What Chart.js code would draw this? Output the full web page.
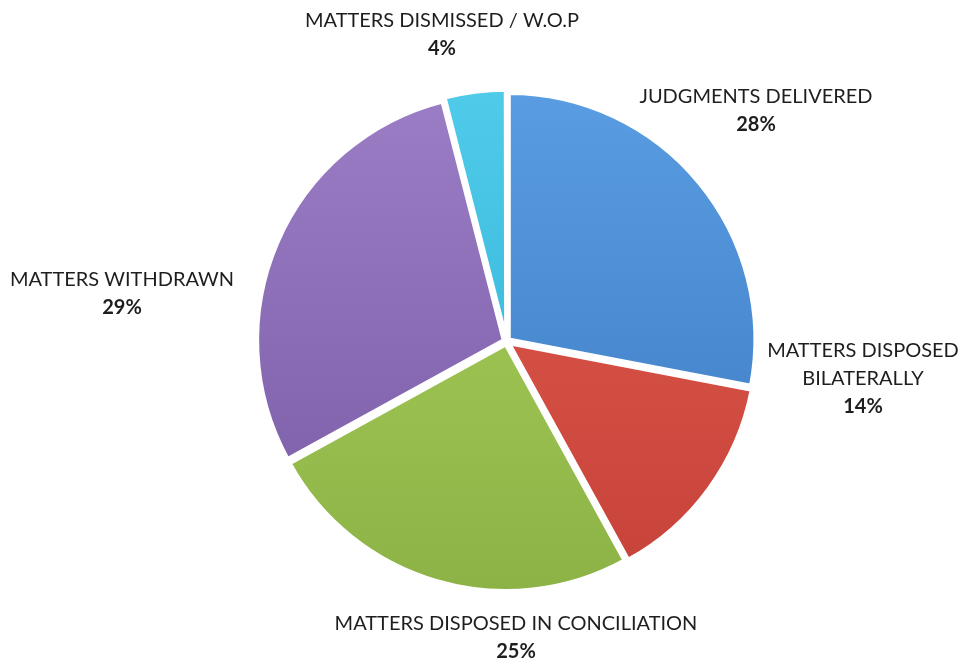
<!DOCTYPE html>
<html>
<head>
<meta charset="utf-8">
<script src="https://cdn.jsdelivr.net/npm/chart.js@4.4.1/dist/chart.umd.min.js"></script>
<style>
  html, body { margin: 0; padding: 0; background: #fff; }
  #wrap { width: 963px; height: 666px; }
</style>
</head>
<body>
<div id="wrap"><canvas id="grafico" width="963" height="666"></canvas></div>
<script>
const categorias = [
    ["JUDGMENTS DELIVERED"],
    ["MATTERS DISPOSED", "BILATERALLY"],
    ["MATTERS DISPOSED IN CONCILIATION"],
    ["MATTERS WITHDRAWN"],
    ["MATTERS DISMISSED / W.O.P"]
];
const percentuais = [28, 14, 25, 29, 4];

// cores claras (topo) e escuras (base) de cada fatia
const corClara = ["#5a9de2", "#e25c4c", "#abd35c", "#9b7ec6", "#50cbea"];
const corEscura = ["#3b78c0", "#c6423a", "#8cb246", "#785aa4", "#2eadd4"];

// onde fica o centro de cada rótulo (x, linha de base da 1ª linha)
const posRotulos = [[756, 103], [863, 357], [516, 630], [122, 286], [442, 27]];

const fonte = "Lato, 'Open Sans', sans-serif";

const rotulos = {
    id: "rotulos",
    afterDraw(chart) {
        const ctx = chart.ctx;
        ctx.save();
        ctx.fillStyle = "#1e1e1e";
        ctx.textAlign = "center";
        ctx.textBaseline = "alphabetic";
        categorias.forEach((linhas, i) => {
            const [x, y] = posRotulos[i];
            ctx.font = "20px " + fonte;
            linhas.forEach((t, j) => ctx.fillText(t, x, y + j * 28));
            ctx.font = "bold 20px " + fonte;
            ctx.fillText(percentuais[i] + "%", x, y + linhas.length * 28);
        });
        ctx.restore();
    }
};

function gradiente(context) {
    const chart = context.chart;
    const area = chart.chartArea;
    if (!area) return corClara[context.dataIndex];
    const g = chart.ctx.createLinearGradient(0, area.top, 0, area.bottom);
    g.addColorStop(0, corClara[context.dataIndex]);
    g.addColorStop(1, corEscura[context.dataIndex]);
    return g;
}

new Chart(document.getElementById("grafico"), {
    type: "pie",
    data: {
        labels: categorias.map(l => l.join(" ")),
        datasets: [{
            data: percentuais,
            backgroundColor: gradiente,
            borderColor: "#ffffff",
            borderWidth: 4,
            offset: 12
        }]
    },
    options: {
        responsive: false,
        animation: false,
        layout: { padding: { left: 252, right: 202, top: 85, bottom: 68 } },
        plugins: { legend: { display: false }, tooltip: { enabled: false } }
    },
    plugins: [rotulos]
});
</script>
</body>
</html>
